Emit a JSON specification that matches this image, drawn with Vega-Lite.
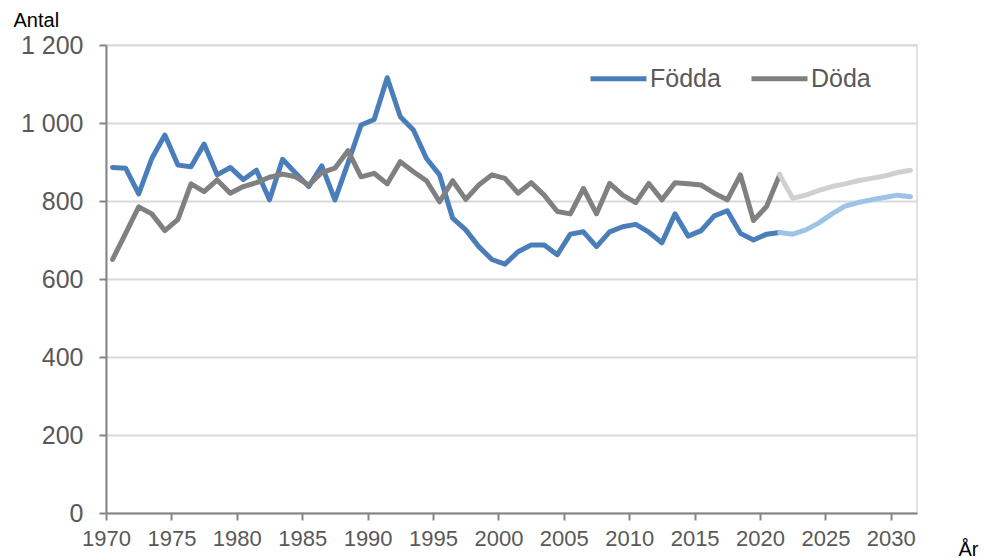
{
  "$schema": "https://vega.github.io/schema/vega-lite/v6.json",
  "width": 811,
  "height": 468,
  "autosize": {"type": "none"},
  "padding": {"left": 106, "top": 45, "right": 67, "bottom": 45},
  "background": "white",
  "config": {
    "font": "Liberation Sans",
    "view": {"stroke": "#d9d9d9", "strokeWidth": 1.5}
  },
  "data": {
    "values": [
      {"ar": 1970, "serie": "Födda", "antal": 886},
      {"ar": 1971, "serie": "Födda", "antal": 884},
      {"ar": 1972, "serie": "Födda", "antal": 818},
      {"ar": 1973, "serie": "Födda", "antal": 909},
      {"ar": 1974, "serie": "Födda", "antal": 969},
      {"ar": 1975, "serie": "Födda", "antal": 892},
      {"ar": 1976, "serie": "Födda", "antal": 888},
      {"ar": 1977, "serie": "Födda", "antal": 946},
      {"ar": 1978, "serie": "Födda", "antal": 867},
      {"ar": 1979, "serie": "Födda", "antal": 886},
      {"ar": 1980, "serie": "Födda", "antal": 855},
      {"ar": 1981, "serie": "Födda", "antal": 879},
      {"ar": 1982, "serie": "Födda", "antal": 803},
      {"ar": 1983, "serie": "Födda", "antal": 907},
      {"ar": 1984, "serie": "Födda", "antal": 871},
      {"ar": 1985, "serie": "Födda", "antal": 837},
      {"ar": 1986, "serie": "Födda", "antal": 890},
      {"ar": 1987, "serie": "Födda", "antal": 803},
      {"ar": 1988, "serie": "Födda", "antal": 897},
      {"ar": 1989, "serie": "Födda", "antal": 995},
      {"ar": 1990, "serie": "Födda", "antal": 1009},
      {"ar": 1991, "serie": "Födda", "antal": 1116},
      {"ar": 1992, "serie": "Födda", "antal": 1016},
      {"ar": 1993, "serie": "Födda", "antal": 982},
      {"ar": 1994, "serie": "Födda", "antal": 909},
      {"ar": 1995, "serie": "Födda", "antal": 867},
      {"ar": 1996, "serie": "Födda", "antal": 756},
      {"ar": 1997, "serie": "Födda", "antal": 726},
      {"ar": 1998, "serie": "Födda", "antal": 683},
      {"ar": 1999, "serie": "Födda", "antal": 650},
      {"ar": 2000, "serie": "Födda", "antal": 638},
      {"ar": 2001, "serie": "Födda", "antal": 670},
      {"ar": 2002, "serie": "Födda", "antal": 687},
      {"ar": 2003, "serie": "Födda", "antal": 687},
      {"ar": 2004, "serie": "Födda", "antal": 662},
      {"ar": 2005, "serie": "Födda", "antal": 715},
      {"ar": 2006, "serie": "Födda", "antal": 721},
      {"ar": 2007, "serie": "Födda", "antal": 683},
      {"ar": 2008, "serie": "Födda", "antal": 721},
      {"ar": 2009, "serie": "Födda", "antal": 734},
      {"ar": 2010, "serie": "Födda", "antal": 740},
      {"ar": 2011, "serie": "Födda", "antal": 720},
      {"ar": 2012, "serie": "Födda", "antal": 693},
      {"ar": 2013, "serie": "Födda", "antal": 767},
      {"ar": 2014, "serie": "Födda", "antal": 710},
      {"ar": 2015, "serie": "Födda", "antal": 724},
      {"ar": 2016, "serie": "Födda", "antal": 762},
      {"ar": 2017, "serie": "Födda", "antal": 775},
      {"ar": 2018, "serie": "Födda", "antal": 717},
      {"ar": 2019, "serie": "Födda", "antal": 700},
      {"ar": 2020, "serie": "Födda", "antal": 715},
      {"ar": 2021, "serie": "Födda", "antal": 719},
      {"ar": 2021, "serie": "Födda prognos", "antal": 719},
      {"ar": 2022, "serie": "Födda prognos", "antal": 715},
      {"ar": 2023, "serie": "Födda prognos", "antal": 726},
      {"ar": 2024, "serie": "Födda prognos", "antal": 744},
      {"ar": 2025, "serie": "Födda prognos", "antal": 767},
      {"ar": 2026, "serie": "Födda prognos", "antal": 787},
      {"ar": 2027, "serie": "Födda prognos", "antal": 796},
      {"ar": 2028, "serie": "Födda prognos", "antal": 803},
      {"ar": 2029, "serie": "Födda prognos", "antal": 809},
      {"ar": 2030, "serie": "Födda prognos", "antal": 815},
      {"ar": 2031, "serie": "Födda prognos", "antal": 811},
      {"ar": 1970, "serie": "Döda", "antal": 650},
      {"ar": 1971, "serie": "Döda", "antal": 717},
      {"ar": 1972, "serie": "Döda", "antal": 785},
      {"ar": 1973, "serie": "Döda", "antal": 767},
      {"ar": 1974, "serie": "Döda", "antal": 724},
      {"ar": 1975, "serie": "Döda", "antal": 753},
      {"ar": 1976, "serie": "Döda", "antal": 844},
      {"ar": 1977, "serie": "Döda", "antal": 824},
      {"ar": 1978, "serie": "Döda", "antal": 854},
      {"ar": 1979, "serie": "Döda", "antal": 820},
      {"ar": 1980, "serie": "Döda", "antal": 837},
      {"ar": 1981, "serie": "Döda", "antal": 847},
      {"ar": 1982, "serie": "Döda", "antal": 861},
      {"ar": 1983, "serie": "Döda", "antal": 869},
      {"ar": 1984, "serie": "Döda", "antal": 862},
      {"ar": 1985, "serie": "Döda", "antal": 841},
      {"ar": 1986, "serie": "Döda", "antal": 873},
      {"ar": 1987, "serie": "Döda", "antal": 884},
      {"ar": 1988, "serie": "Döda", "antal": 929},
      {"ar": 1989, "serie": "Döda", "antal": 862},
      {"ar": 1990, "serie": "Döda", "antal": 871},
      {"ar": 1991, "serie": "Döda", "antal": 844},
      {"ar": 1992, "serie": "Döda", "antal": 901},
      {"ar": 1993, "serie": "Döda", "antal": 875},
      {"ar": 1994, "serie": "Döda", "antal": 852},
      {"ar": 1995, "serie": "Döda", "antal": 798},
      {"ar": 1996, "serie": "Döda", "antal": 852},
      {"ar": 1997, "serie": "Döda", "antal": 804},
      {"ar": 1998, "serie": "Döda", "antal": 841},
      {"ar": 1999, "serie": "Döda", "antal": 867},
      {"ar": 2000, "serie": "Döda", "antal": 858},
      {"ar": 2001, "serie": "Döda", "antal": 820},
      {"ar": 2002, "serie": "Döda", "antal": 847},
      {"ar": 2003, "serie": "Döda", "antal": 815},
      {"ar": 2004, "serie": "Döda", "antal": 773},
      {"ar": 2005, "serie": "Döda", "antal": 767},
      {"ar": 2006, "serie": "Döda", "antal": 832},
      {"ar": 2007, "serie": "Döda", "antal": 767},
      {"ar": 2008, "serie": "Döda", "antal": 845},
      {"ar": 2009, "serie": "Döda", "antal": 815},
      {"ar": 2010, "serie": "Döda", "antal": 796},
      {"ar": 2011, "serie": "Döda", "antal": 845},
      {"ar": 2012, "serie": "Döda", "antal": 803},
      {"ar": 2013, "serie": "Döda", "antal": 847},
      {"ar": 2014, "serie": "Döda", "antal": 844},
      {"ar": 2015, "serie": "Döda", "antal": 841},
      {"ar": 2016, "serie": "Döda", "antal": 820},
      {"ar": 2017, "serie": "Döda", "antal": 803},
      {"ar": 2018, "serie": "Döda", "antal": 867},
      {"ar": 2019, "serie": "Döda", "antal": 750},
      {"ar": 2020, "serie": "Döda", "antal": 786},
      {"ar": 2021, "serie": "Döda", "antal": 867},
      {"ar": 2021, "serie": "Döda prognos", "antal": 867},
      {"ar": 2022, "serie": "Döda prognos", "antal": 807},
      {"ar": 2023, "serie": "Döda prognos", "antal": 815},
      {"ar": 2024, "serie": "Döda prognos", "antal": 827},
      {"ar": 2025, "serie": "Döda prognos", "antal": 837},
      {"ar": 2026, "serie": "Döda prognos", "antal": 844},
      {"ar": 2027, "serie": "Döda prognos", "antal": 852},
      {"ar": 2028, "serie": "Döda prognos", "antal": 858},
      {"ar": 2029, "serie": "Döda prognos", "antal": 864},
      {"ar": 2030, "serie": "Döda prognos", "antal": 873},
      {"ar": 2031, "serie": "Döda prognos", "antal": 879}
    ]
  },
  "encoding": {
    "x": {
      "field": "ar",
      "type": "quantitative",
      "scale": {"domain": [1969.5, 2031.5], "nice": false, "zero": false},
      "axis": {
        "values": [1969.5, 1974.5, 1979.5, 1984.5, 1989.5, 1994.5, 1999.5, 2004.5, 2009.5, 2014.5, 2019.5, 2024.5, 2029.5],
        "labelExpr": "format(datum.value + 0.5, 'd')",
        "grid": false,
        "domainColor": "#868686",
        "domainWidth": 2,
        "tickColor": "#868686",
        "tickWidth": 2,
        "tickSize": 7,
        "labelFontSize": 22,
        "labelColor": "#595959",
        "labelPadding": 8,
        "labelDx": 6,
        "labelFlush": false,
        "labelOverlap": false,
        "title": "År",
        "titleFontSize": 20,
        "titleFontWeight": "normal",
        "titleColor": "#000000",
        "titleAlign": "left",
        "titleAnchor": "start",
        "titleBaseline": "alphabetic",
        "titleX": 852,
        "titleY": 42
      }
    },
    "y": {
      "field": "antal",
      "type": "quantitative",
      "scale": {"domain": [0, 1200], "nice": false},
      "axis": {
        "values": [0, 200, 400, 600, 800, 1000, 1200],
        "labelExpr": "replace(format(datum.value, ','), ',', ' ')",
        "grid": true,
        "gridColor": "#d9d9d9",
        "gridWidth": 2,
        "domainColor": "#868686",
        "domainWidth": 2,
        "tickColor": "#868686",
        "tickWidth": 2,
        "tickSize": 7,
        "labelFontSize": 25,
        "labelColor": "#595959",
        "labelPadding": 16,
        "labelOverlap": false,
        "title": "Antal",
        "titleAngle": 0,
        "titleFontSize": 20,
        "titleFontWeight": "normal",
        "titleColor": "#000000",
        "titleAlign": "left",
        "titleAnchor": "start",
        "titleBaseline": "alphabetic",
        "titleX": -93,
        "titleY": -19
      }
    },
    "color": {
      "field": "serie",
      "type": "nominal",
      "scale": {
        "domain": ["Födda", "Döda", "Födda prognos", "Döda prognos"],
        "range": ["#4a7ebb", "#808080", "#9dc3e6", "#d0d0d0"]
      },
      "legend": {
        "values": ["Födda", "Döda"],
        "title": null,
        "orient": "none",
        "legendX": 482,
        "legendY": 3,
        "direction": "horizontal",
        "symbolType": "stroke",
        "symbolSize": 3136,
        "symbolStrokeWidth": 5,
        "labelFontSize": 25,
        "labelColor": "#595959",
        "labelOffset": 1,
        "columnPadding": 20
      }
    }
  },
  "layer": [
    {
      "transform": [{"filter": "datum.serie == 'Födda'"}],
      "mark": {"type": "line", "strokeWidth": 5, "strokeJoin": "round", "strokeCap": "round"}
    },
    {
      "transform": [{"filter": "datum.serie == 'Födda prognos'"}],
      "mark": {"type": "line", "strokeWidth": 5, "strokeJoin": "round", "strokeCap": "round"}
    },
    {
      "transform": [{"filter": "datum.serie == 'Döda'"}],
      "mark": {"type": "line", "strokeWidth": 5, "strokeJoin": "round", "strokeCap": "round"}
    },
    {
      "transform": [{"filter": "datum.serie == 'Döda prognos'"}],
      "mark": {"type": "line", "strokeWidth": 5, "strokeJoin": "round", "strokeCap": "round"}
    }
  ]
}
